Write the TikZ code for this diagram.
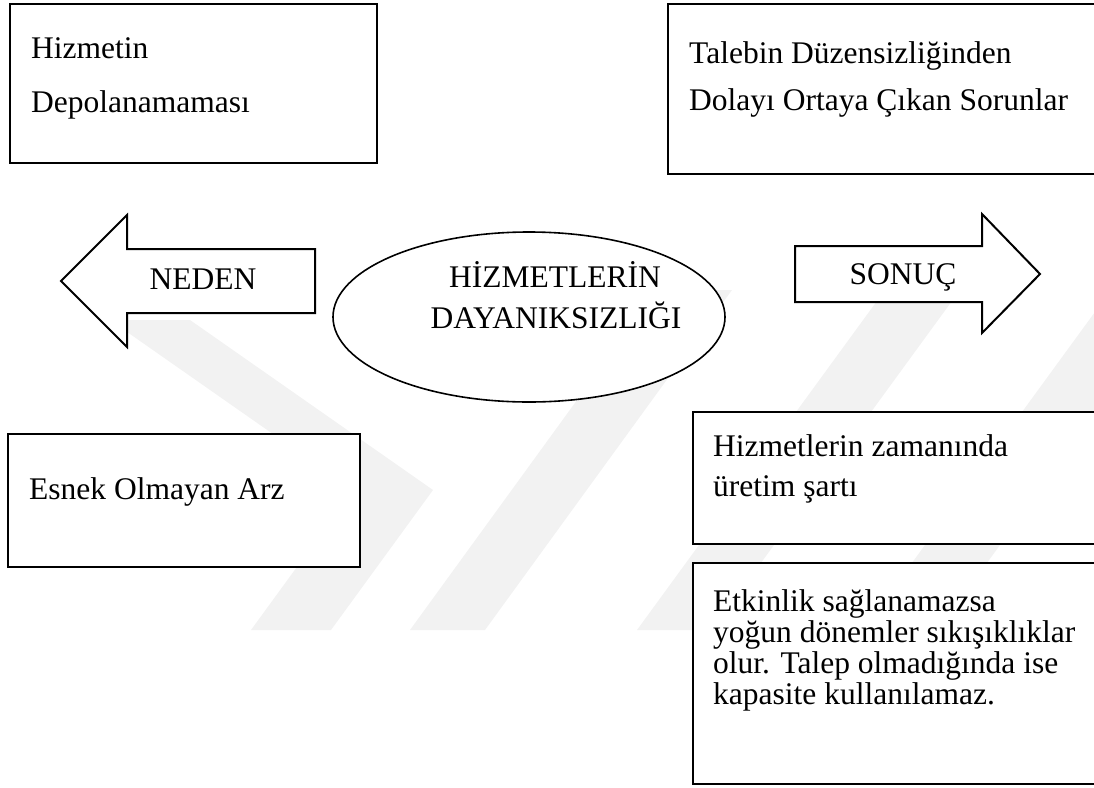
\documentclass[tikz,border=0pt]{standalone}
\usepackage{fontspec}
\setmainfont{Liberation Serif}
\usetikzlibrary{shapes.geometric}
\begin{document}
\begin{tikzpicture}[x=1pt,y=-1pt,
  boxframe/.style={draw=black, line width=2pt, fill=white, rectangle,
    inner sep=0pt, anchor=north west},
  txt/.style={inner sep=0pt, font=\fontsize{31.5}{36}\selectfont, anchor=base west},
  ctxt/.style={inner sep=0pt, font=\fontsize{31.5}{36}\selectfont, anchor=base},
  bigarrow/.style={draw=black, line width=2pt, fill=white, line join=miter},
  faint/.style={fill=black!5, draw=none}
]
\useasboundingbox (0,0) rectangle (1094,787);
\clip (0,0) rectangle (1094,787);

% faint background emblem: chevron and slanted stripes
\fill[faint] (110,320) -- (190,320) -- (433,490) -- (331,630) -- (251,630) -- (353,490) -- cycle;
\fill[faint] (410,630) -- (485,630) -- (732,290) -- (657,290) -- cycle;
\fill[faint] (637,630) -- (712,630) -- (960,290) -- (885,290) -- cycle;
\fill[faint] (863,630) -- (938,630) -- (1186,290) -- (1111,290) -- cycle;

% boxes
\node[boxframe, minimum width=367pt, minimum height=159pt] (storage) at (9,3) {};
\node[boxframe, minimum width=443pt, minimum height=170pt] (demand) at (667,3) {};
\node[boxframe, minimum width=352pt, minimum height=133pt] (supply) at (7,433) {};
\node[boxframe, minimum width=418pt, minimum height=132pt] (timing) at (692,411) {};
\node[boxframe, minimum width=418pt, minimum height=221pt] (effect) at (692,562) {};

% cause and result arrows
\draw[bigarrow] (61,281) -- (127,215) -- (127,249) -- (315,249) -- (315,313)
  -- (127,313) -- (127,347) -- cycle;
\draw[bigarrow] (795,246) -- (982,246) -- (982,214) -- (1040,274) -- (982,333)
  -- (982,302) -- (795,302) -- cycle;

% central ellipse
\node[draw=black, line width=1.6pt, fill=white, ellipse, inner sep=0pt,
  minimum width=392pt, minimum height=170pt] (core) at (529,317) {};

% texts
\node[txt] (storageA) at (31,58) {Hizmetin};
\node[txt] (storageB) at (31,112) {Depolanamaması};
\node[txt] (demandA) at (689,63) {Talebin Düzensizliğinden};
\node[txt] (demandB) at (689,110) {Dolayı Ortaya Çıkan Sorunlar};
\node[ctxt] (cause) at (203,289) {NEDEN};
\node[ctxt] (result) at (903,284) {SONUÇ};
\node[ctxt] (coreA) at (555,287) {HİZMETLERİN};
\node[ctxt] (coreB) at (556,328) {DAYANIKSIZLIĞI};
\node[txt] (supplyA) at (29,499) {Esnek Olmayan Arz};
\node[txt] (timingA) at (713,456) {Hizmetlerin zamanında};
\node[txt] (timingB) at (713,496) {üretim şartı};
\node[txt] (effectA) at (713,611) {Etkinlik sağlanamazsa};
\node[txt] (effectB) at (713,642) {yoğun dönemler sıkışıklıklar};
\node[txt] (effectC) at (713,673) {olur. Talep olmadığında ise};
\node[txt] (effectD) at (713,704) {kapasite kullanılamaz.};
\end{tikzpicture}
\end{document}
